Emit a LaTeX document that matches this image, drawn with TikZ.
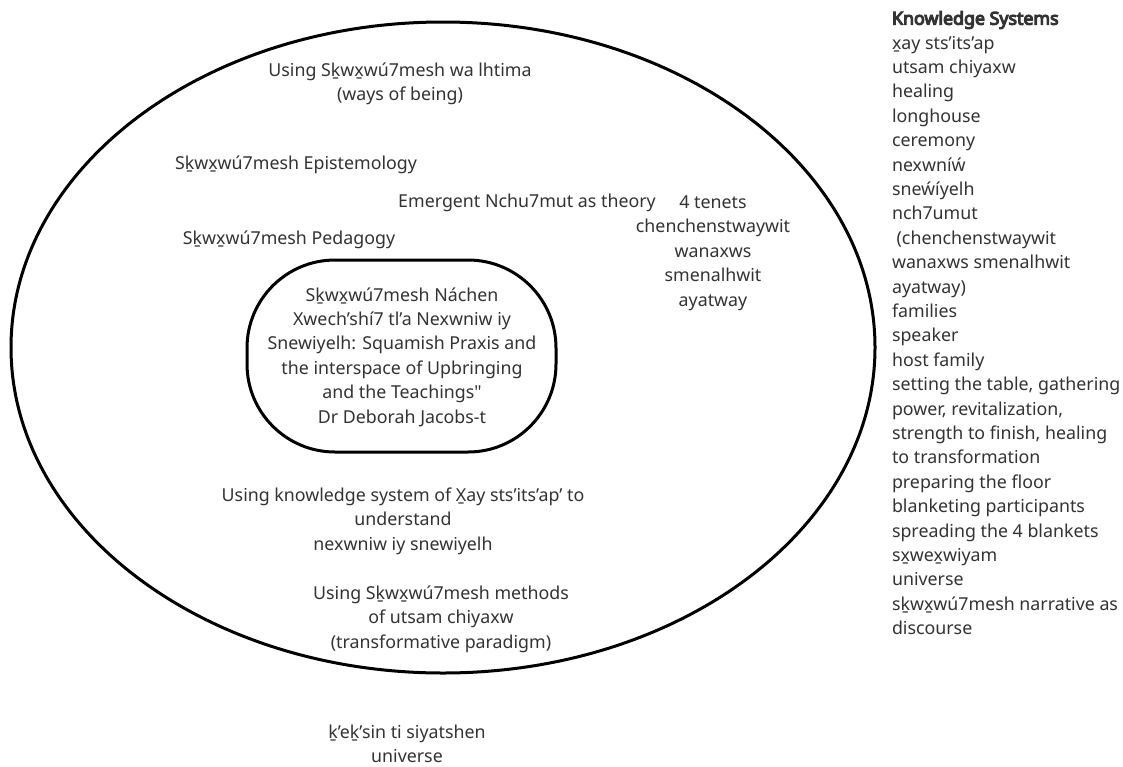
\documentclass[tikz,border=0pt]{standalone}
\usepackage{fontspec}
\setmainfont{Noto Sans}[Ligatures=TeXOff]
\newfontfamily\headfont{Noto Sans}[FakeBold=6]
\begin{document}
\begin{tikzpicture}[x=1pt,y=-1pt,
  every node/.style={inner sep=0pt, outer sep=0pt, text=black!80,
    font=\fontsize{17.8}{24.4}\selectfont},
  label/.style={align=center},
  listing/.style={align=left, anchor=west},
  ring/.style={draw=black, line width=3pt}]
  \useasboundingbox[fill=white] (0,0) rectangle (1123,766);

  % outer field and inner core
  \draw[ring] (443,347.5) ellipse [x radius=432, y radius=325.5];
  \draw[ring, rounded corners=88pt] (247,260) rectangle (556,452);

  \node[label] (ways) at (400,84) {Using Sḵwx̱wú7mesh wa lhtima\\(ways of being)};
  \node[label] (epist) at (296,165) {Sḵwx̱wú7mesh Epistemology};
  \node[label] (emergent) at (527,203) {Emergent Nchu7mut as theory};
  \node[label] (pedagogy) at (289,240) {Sḵwx̱wú7mesh Pedagogy};
  \node[label] (tenets) at (713,253) {4 tenets\\chenchenstwaywit\\wanaxws\\smenalhwit\\ayatway};
  \node[label] (core) at (402,357) {Sḵwx̱wú7mesh Náchen\\Xwech’shí7 tl’a Nexwniw iy\\Snewiyelh: Squamish Praxis and\\the interspace of Upbringing\\and the Teachings"\\Dr Deborah Jacobs-t};
  \node[label] (knowledge) at (403,521) {Using knowledge system of X̱ay sts’its’ap’ to\\understand\\nexwniw iy snewiyelh};
  \node[label] (methods) at (441,619) {Using Sḵwx̱wú7mesh methods\\of utsam chiyaxw\\(transformative paradigm)};
  \node[label] (keksin) at (407,744) {ḵ’eḵ’sin ti siyatshen\\universe};

  \node[listing] (systems) at (892,323) {{\headfont Knowledge Systems}\\
    x̱ay sts’its’ap\\
    utsam chiyaxw\\
    healing\\
    longhouse\\
    ceremony\\
    nexwníẃ\\
    sneẃíyelh\\
    nch7umut\\
    \ (chenchenstwaywit\\
    wanaxws smenalhwit\\
    ayatway)\\
    families\\
    speaker\\
    host family\\
    setting the table, gathering\\
    power, revitalization,\\
    strength to finish, healing\\
    to transformation\\
    preparing the floor\\
    blanketing participants\\
    spreading the 4 blankets\\
    sx̱wex̱wiyam\\
    universe\\
    sḵwx̱wú7mesh narrative as\\
    discourse};
\end{tikzpicture}
\end{document}
